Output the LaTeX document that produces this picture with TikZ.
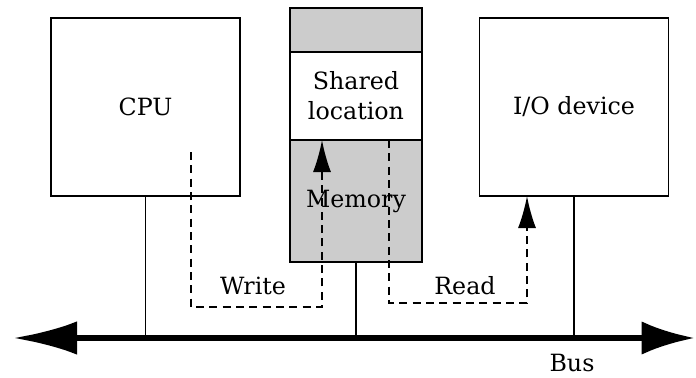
\documentclass[tikz,border=0pt]{standalone}
\usepackage{fontspec}
\setmainfont{DejaVu Serif}
\usetikzlibrary{positioning,arrows.meta}

\begin{document}
\begin{tikzpicture}[
x=0.75pt, y=-0.75pt,
every node/.style={font=\fontsize{17.8}{22.5}\selectfont},
unitbox/.style={draw, line width=1.1pt, fill=white, inner sep=0pt, outer sep=0pt,
    minimum width=141.5pt, minimum height=133.5pt},
memcell/.style={draw, line width=1.1pt, inner sep=0pt, outer sep=0pt,
    minimum width=99pt, align=center},
link/.style={line width=1pt},
busline/.style={line width=4.5pt, {Latex[length=48pt,width=25pt]}-{Latex[length=40pt,width=25pt]}},
transfer/.style={line width=1.2pt, dash pattern=on 6pt off 4pt,
    -{Latex[length=24pt,width=13.5pt]}},
labelbox/.style={inner sep=1pt}
]

\useasboundingbox (0,0) rectangle (696,378);

% =====================================================
% Units
% =====================================================

\node[unitbox] (cpu) at (145.5,107) {CPU};
\node[unitbox] (io) at (574,107) {I/O device};

% Memory column
\node[memcell, fill=gray!40, minimum height=33pt] (memtop) at (356,30) {};
\node[memcell, fill=white, minimum height=66pt, below=0pt of memtop] (shared) {Shared\\location};
\node[memcell, fill=gray!40, minimum height=91.5pt, below=0pt of shared] (mem) {Memory};

% =====================================================
% Bus
% =====================================================

\coordinate (busL) at (13,338);
\coordinate (busR) at (695,338);
\draw[busline] (busL) -- (busR);
\node[labelbox] (buslab) at (572,363) {Bus};

\draw[link] (cpu.south) -- (cpu.south |- busL);
\draw[link] (mem.south) -- (mem.south |- busL);
\draw[link] (io.south) -- (io.south |- busL);

% =====================================================
% Write and read
% =====================================================

\coordinate (wstart) at (191,152);
\coordinate (wend) at (322,140);
\draw[transfer] (wstart) |- (258,307) -| (wend);
\node[labelbox] (writelab) at (253,286) {Write};

\coordinate (rstart) at (389,140);
\coordinate (rend) at (527,196);
\draw[transfer] (rstart) |- (458,303) -| (rend);
\node[labelbox] (readlab) at (465,286) {Read};

\end{tikzpicture}
\end{document}
